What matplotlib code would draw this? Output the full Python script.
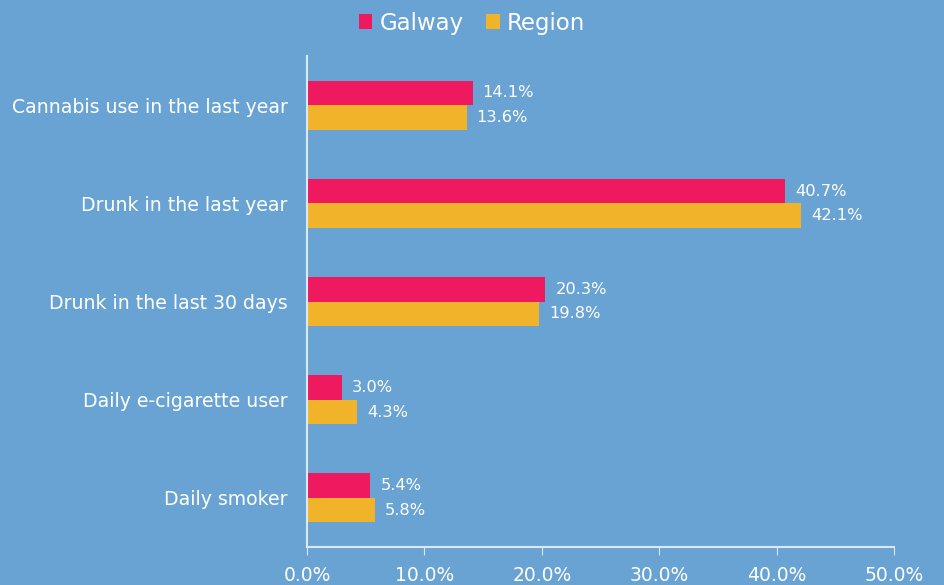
import matplotlib
matplotlib.use("Agg")
import matplotlib.pyplot as plt
import numpy as np

categories = ["Cannabis use in the last year", "Drunk in the last year",
              "Drunk in the last 30 days", "Daily e-cigarette user", "Daily smoker"]
galway = [14.1, 40.7, 20.3, 3.0, 5.4]
region = [13.6, 42.1, 19.8, 4.3, 5.8]
series_names = ["Galway", "Region"]
xticks = [0, 10, 20, 30, 40, 50]

BG = "#68A3D3"
C_G = "#EE195E"
C_R = "#F1B32A"
FONT = "DejaVu Sans"
plt.rcParams['font.family'] = [FONT]

fig = plt.figure(figsize=(9.44, 5.85), dpi=100, facecolor=BG)
ax = fig.add_axes([0.3252, 0.065, 0.6218, 0.839], facecolor=BG)

y = np.arange(len(categories))
h = 0.25
bg = ax.barh(y - h/2, galway, height=h, color=C_G, label=series_names[0])
br = ax.barh(y + h/2, region, height=h, color=C_R, label=series_names[1])
for yy, v in zip(y - h/2, galway):
    ax.text(v + 0.85, yy, f"{v:.1f}%", va="center", ha="left", color="white", fontsize=11.7)
for yy, v in zip(y + h/2, region):
    ax.text(v + 0.85, yy, f"{v:.1f}%", va="center", ha="left", color="white", fontsize=11.7)

ax.set_ylim(len(categories) - 0.5, -0.5)
ax.set_xlim(0, 50)
ax.set_yticks(y)
ax.set_yticklabels(categories, fontsize=13.6, color="white")
ax.set_xticks(xticks)
ax.set_xticklabels([f"{t:.1f}%" for t in xticks], fontsize=13.5, color="white")
ax.tick_params(axis="y", length=0, pad=14)
ax.tick_params(axis="x", length=6, color="#DCE8F4", pad=8)
for s in ["top", "right"]:
    ax.spines[s].set_visible(False)
ax.spines["left"].set_color("#DCE8F4")
ax.spines["bottom"].set_color("#DCE8F4")
ax.spines["left"].set_linewidth(1.5)
ax.spines["bottom"].set_linewidth(1.5)

leg = fig.legend(handles=[bg, br], labels=series_names, loc="upper center",
                 bbox_to_anchor=(0.5, 1.015), ncol=2, frameon=False, fontsize=16.5,
                 handlelength=0.6, handleheight=0.6, handletextpad=0.3, columnspacing=1.0)
for t in leg.get_texts():
    t.set_color("white")

fig.savefig("out.png", dpi=100, facecolor=BG)
